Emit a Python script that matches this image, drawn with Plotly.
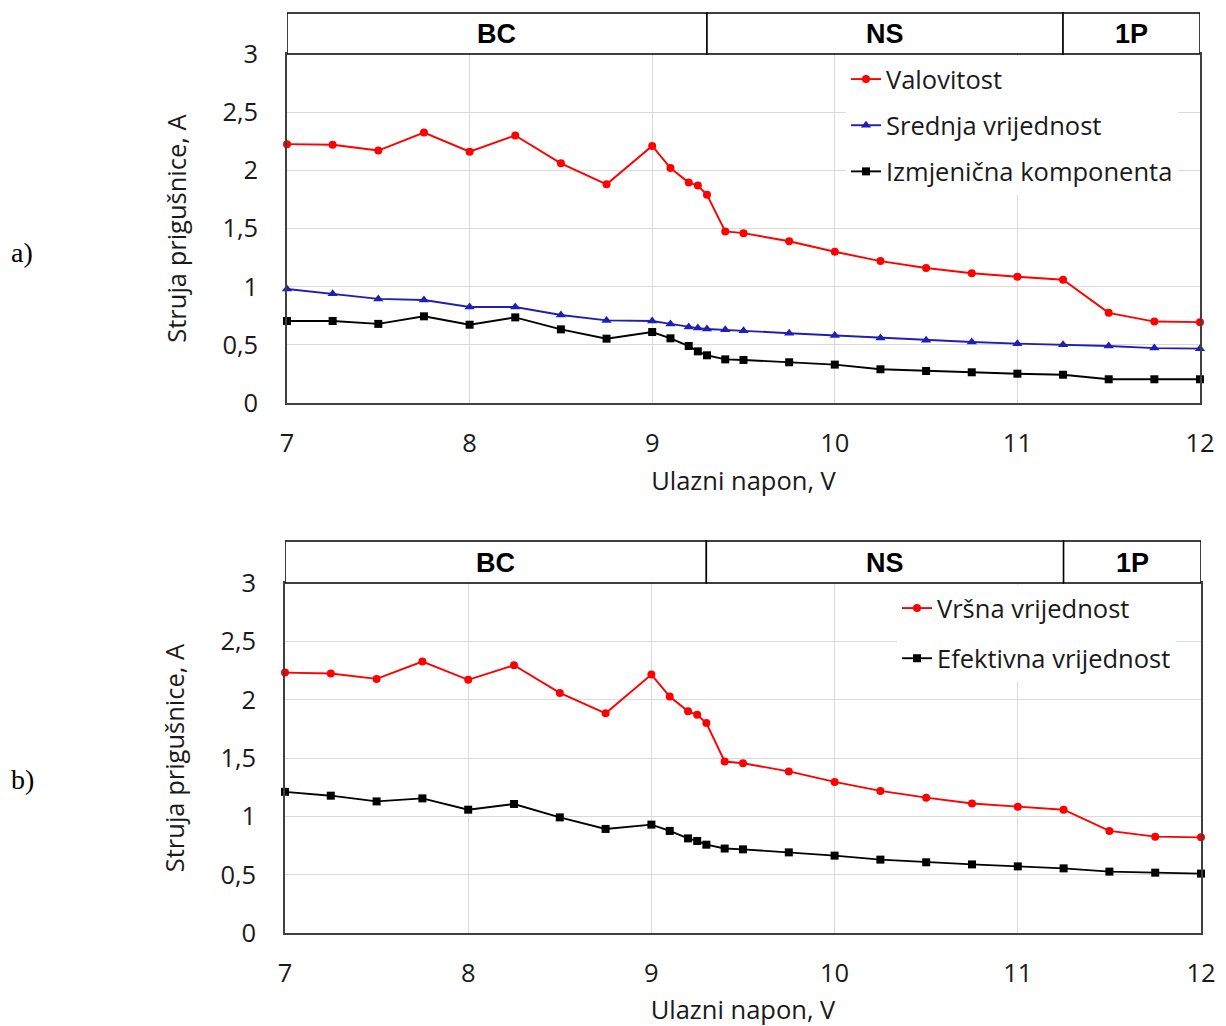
import plotly.graph_objects as go

# ---------------- data ----------------
napon = [7, 7.25, 7.5, 7.75, 8, 8.25, 8.5, 8.75, 9, 9.1, 9.2, 9.25, 9.3, 9.4,
         9.5, 9.75, 10, 10.25, 10.5, 10.75, 11, 11.25, 11.5, 11.75, 12]

valovitost = [2.225, 2.22, 2.17, 2.325, 2.16, 2.30, 2.06, 1.88, 2.21, 2.02, 1.895, 1.87, 1.79,
              1.475, 1.46, 1.39, 1.30, 1.22, 1.16, 1.115, 1.085, 1.06, 0.775, 0.70, 0.695]
srednja = [0.98, 0.94, 0.895, 0.885, 0.825, 0.825, 0.756, 0.71, 0.705, 0.68, 0.653, 0.644, 0.636,
           0.63, 0.62, 0.60, 0.58, 0.558, 0.54, 0.524, 0.51, 0.50, 0.49, 0.472, 0.467]
izmjenicna = [0.705, 0.705, 0.68, 0.745, 0.673, 0.736, 0.633, 0.553, 0.61, 0.556, 0.49, 0.444, 0.41,
              0.375, 0.37, 0.35, 0.33, 0.29, 0.275, 0.264, 0.252, 0.243, 0.204, 0.204, 0.204]

vrsna = [2.232, 2.224, 2.178, 2.327, 2.17, 2.295, 2.058, 1.883, 2.215, 2.027, 1.90, 1.87, 1.80,
         1.47, 1.455, 1.385, 1.295, 1.218, 1.16, 1.11, 1.083, 1.057, 0.875, 0.826, 0.82]
efektivna = [1.21, 1.177, 1.128, 1.154, 1.057, 1.106, 0.991, 0.892, 0.929, 0.875, 0.811, 0.789, 0.757,
             0.724, 0.717, 0.691, 0.663, 0.629, 0.606, 0.588, 0.571, 0.554, 0.526, 0.517, 0.509]

region_labels = ["BC", "NS", "1P"]
region_bounds = [7, 9.3, 11.25, 12]

y_tickvals = [0, 0.5, 1, 1.5, 2, 2.5, 3]
y_ticktext = ["0", "0,5", "1", "1,5", "2", "2,5", "3"]
x_tickvals = [7, 8, 9, 10, 11, 12]

# ---------------- layout helpers ----------------
W, H = 1226, 1026
FONT = "Open Sans, Noto Sans, sans-serif"
TXT = "#1a1a1a"
FS = 25.5

def px_x(p):
    return p / W

def px_y(p):
    return 1 - p / H

fig = go.Figure()

def add_line(x, y, name, color, symbol, size, xa, ya, legend):
    fig.add_trace(go.Scatter(
        x=x, y=y, name=name, mode="lines+markers",
        line=dict(color=color, width=1.9),
        marker=dict(color=color, symbol=symbol, size=size),
        xaxis=xa, yaxis=ya, legend=legend, legendgroup=name,
        cliponaxis=False,
    ))

add_line(napon, valovitost, "Valovitost", "#ff0000", "circle", 8, "x", "y", "legend")
add_line(napon, srednja, "Srednja vrijednost", "#1f1fb4", "triangle-up", 9, "x", "y", "legend")
add_line(napon, izmjenicna, "Izmjenična komponenta", "#000000", "square", 8, "x", "y", "legend")
add_line(napon, vrsna, "Vršna vrijednost", "#ff0000", "circle", 8, "x2", "y2", "legend2")
add_line(napon, efektivna, "Efektivna vrijednost", "#000000", "square", 8, "x2", "y2", "legend2")

axis_common_x = dict(range=[7, 12], tickvals=x_tickvals, showgrid=True, gridcolor="#d9d9d9",
                     gridwidth=1, showline=True, linecolor="#404040", linewidth=1.5, mirror=True,
                     zeroline=False, ticks="", ticklabelstandoff=17, automargin=False,
                     tickfont=dict(family=FONT, size=FS, color=TXT),
                     title=dict(text="Ulazni napon, V", font=dict(family=FONT, size=FS, color=TXT), standoff=14))
axis_common_y = dict(range=[0, 3], tickvals=y_tickvals, ticktext=y_ticktext, showgrid=True,
                     gridcolor="#d9d9d9", gridwidth=1, showline=True, linecolor="#404040",
                     linewidth=1.5, mirror=True, zeroline=False, ticks="", ticklabelstandoff=22,
                     automargin=False,
                     tickfont=dict(family=FONT, size=FS, color=TXT),
                     title=dict(text="Struja prigušnice, A", font=dict(family=FONT, size=FS, color=TXT), standoff=28))

fig.update_layout(
    width=W, height=H, margin=dict(l=0, r=0, t=0, b=0, autoexpand=False),
    paper_bgcolor="white", plot_bgcolor="white",
    xaxis=dict(domain=[px_x(287), px_x(1200)], anchor="y", **axis_common_x),
    yaxis=dict(domain=[px_y(403), px_y(54)], anchor="x", **axis_common_y),
    xaxis2=dict(domain=[px_x(285), px_x(1201)], anchor="y2", **axis_common_x),
    yaxis2=dict(domain=[px_y(933), px_y(583)], anchor="x2", **axis_common_y),
    legend=dict(x=px_x(846), y=px_y(56), xanchor="left", yanchor="top", bgcolor="white",
                font=dict(family=FONT, size=FS, color=TXT), tracegroupgap=10,
                traceorder="grouped", itemwidth=30),
    legend2=dict(x=px_x(897), y=px_y(585), xanchor="left", yanchor="top", bgcolor="white",
                 font=dict(family=FONT, size=FS, color=TXT), tracegroupgap=14,
                 traceorder="grouped", itemwidth=30),
    showlegend=True,
)

# header boxes with regime labels
for xa, yd, top in (("x", "y domain", 1.1175), ("x2", "y2 domain", 1.12)):
    for i, lab in enumerate(region_labels):
        x0, x1 = region_bounds[i], region_bounds[i + 1]
        fig.add_shape(type="rect", xref=xa, yref=yd, x0=x0, x1=x1, y0=1, y1=top,
                      line=dict(color="black", width=1.5), fillcolor="white", layer="above")
        fig.add_annotation(xref=xa, yref=yd, x=(x0 + x1) / 2, y=(1 + top) / 2, text="<b>%s</b>" % lab,
                           xanchor="center", yanchor="middle", showarrow=False, yshift=-1,
                           font=dict(family="Liberation Sans Narrow, Arial Narrow, Liberation Sans, Arial",
                                     size=27, color="black"))

# panel labels
for lab, yp in (("a)", 252), ("b)", 779)):
    fig.add_annotation(xref="paper", yref="paper", x=px_x(9), y=px_y(yp), xanchor="left", yanchor="middle",
                       text=lab, showarrow=False,
                       font=dict(family="Liberation Serif, Times New Roman, serif", size=28, color="black"))

fig.write_html("out.html", config={"displayModeBar": False},
               post_script="document.body.style.margin='0';")
